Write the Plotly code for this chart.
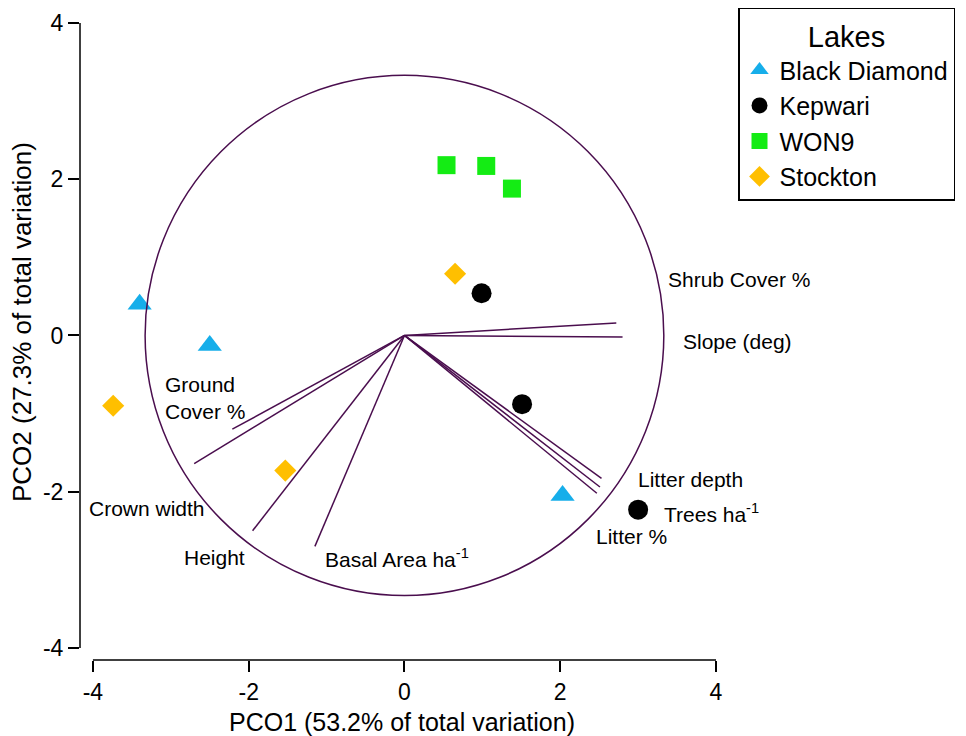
import plotly.graph_objects as go

# ---- data ----
lakes = ["Black Diamond", "Kepwari", "WON9", "Stockton"]
bd_x = [-3.40, -2.50, 2.03]
bd_y = [0.40, -0.13, -2.05]
kp_x = [0.99, 1.51, 3.00]
kp_y = [0.54, -0.88, -2.23]
won_x = [0.54, 1.05, 1.38]
won_y = [2.18, 2.17, 1.88]
st_x = [0.65, -3.74, -1.53]
st_y = [0.79, -0.90, -1.73]

vec_names = ["Shrub Cover %", "Slope (deg)", "Litter depth", "Trees ha<sup>-1</sup>",
             "Litter %", "Ground<br>Cover %", "Crown width", "Height",
             "Basal Area ha<sup>-1</sup>"]
vec_x = [2.72, 2.80, 2.53, 2.51, 2.47, -2.21, -2.70, -1.95, -1.15]
vec_y = [0.16, -0.02, -1.83, -1.94, -2.02, -1.20, -1.64, -2.50, -2.70]
circle_r = 3.33

tick_vals = [-4, -2, 0, 2, 4]
tick_text = ["-4", "-2", "0", "2", "4"]
x_title = "PCO1 (53.2% of total variation)"
y_title = "PCO2 (27.3% of total variation)"

# ---- label placement (layout) ----
lab_x = [3.36, 3.55, 2.97, 3.31, 2.43, -3.10, -4.08, -2.86, -1.05]
lab_y = [0.71, -0.08, -1.84, -2.27, -2.58, -0.80, -2.21, -2.84, -2.85]

FONT = "Liberation Sans, Arial, sans-serif"
VCOL = "#4a0e4e"

fig = go.Figure()

# vectors
lx, ly = [], []
for x, y in zip(vec_x, vec_y):
    lx += [0, x, None]
    ly += [0, y, None]
fig.add_trace(go.Scatter(x=lx, y=ly, mode="lines", line=dict(color=VCOL, width=1.5),
                         showlegend=False, hoverinfo="skip"))

styles = [("triangle-up", "#16aeea", 21), ("circle", "#000000", 20),
          ("square", "#14ec14", 18), ("diamond", "#ffbf00", 17)]
series = [(bd_x, bd_y), (kp_x, kp_y), (won_x, won_y), (st_x, st_y)]
for name, (xs, ys), (sym, col, sz) in zip(lakes, series, styles):
    fig.add_trace(go.Scatter(x=xs, y=ys, mode="markers", name=name,
                             marker=dict(symbol=sym, color=col, size=sz, line=dict(width=0)),
                             cliponaxis=False))

shapes = [
    dict(type="circle", xref="x", yref="y", x0=-circle_r, y0=-circle_r, x1=circle_r, y1=circle_r,
         line=dict(color=VCOL, width=1.5)),
    dict(type="line", xref="paper", yref="y", x0=0, x1=0, y0=-4, y1=4,
         line=dict(color="black", width=1.5)),
    dict(type="line", xref="x", yref="paper", x0=-4, x1=4, y0=0, y1=0,
         line=dict(color="black", width=1.5)),
]

annotations = []
for t, x, y in zip(vec_names, lab_x, lab_y):
    annotations.append(dict(x=x, y=y, xref="x", yref="y", text=t, showarrow=False,
                            xanchor="left", yanchor="middle", align="left",
                            font=dict(family=FONT, size=21, color="black")))
annotations.append(dict(x=0.5063, y=-0.0973, xref="paper", yref="paper", text=x_title,
                        showarrow=False, xanchor="center", yanchor="middle",
                        font=dict(family=FONT, size=25, color="black")))
annotations.append(dict(x=-0.0912, y=0.5306, xref="paper", yref="paper", text=y_title,
                        showarrow=False, xanchor="center", yanchor="middle", textangle=-90,
                        font=dict(family=FONT, size=26, color="black")))

fig.update_layout(
    width=958, height=728,
    margin=dict(l=72, r=250, t=15, b=76, autoexpand=False),
    plot_bgcolor="white", paper_bgcolor="white",
    shapes=shapes,
    annotations=annotations,
    font=dict(family=FONT, size=24, color="black"),
    xaxis=dict(range=[-4.166, 4.0], tickvals=tick_vals, ticktext=tick_text, ticks="outside",
               ticklen=11, tickwidth=1.5, tickcolor="black", showgrid=False, zeroline=False,
               showline=False, automargin=False, tickfont=dict(family=FONT, size=23)),
    yaxis=dict(range=[-4.155, 4.0], tickvals=tick_vals, ticktext=tick_text, ticks="outside",
               ticklen=11, tickwidth=1.5, tickcolor="black", showgrid=False, zeroline=False,
               showline=False, automargin=False, tickfont=dict(family=FONT, size=23)),
    legend=dict(x=1.0346, y=1.0236, xanchor="left", yanchor="top",
                bordercolor="black", borderwidth=1.5, bgcolor="white",
                font=dict(family=FONT, size=25, color="black"),
                tracegroupgap=0, entrywidth=210,
                title=dict(text="Lakes", side="top center", font=dict(family=FONT, size=29))),
)

fig.write_html("out.html")
